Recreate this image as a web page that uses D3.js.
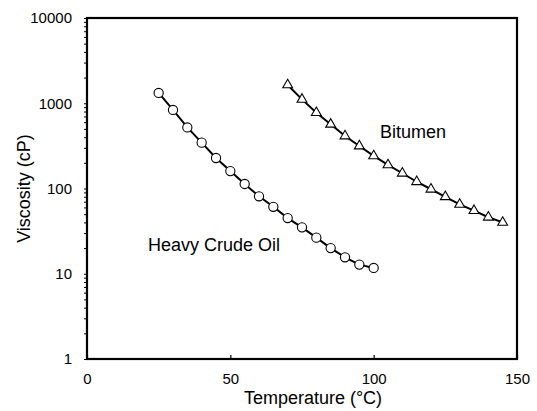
<!DOCTYPE html>
<html>
<head>
<meta charset="utf-8">
<script src="https://cdnjs.cloudflare.com/ajax/libs/d3/7.8.5/d3.min.js"></script>
<style>
  body { margin: 0; background: #fff; }
  svg { display: block; font-family: "Liberation Sans", Arial, sans-serif; }
</style>
</head>
<body>
<div class="chart"></div>
<script>
// temperatures in °C, viscosities in cP
var oilTemps = [25, 30, 35, 40, 45, 50, 55, 60, 65, 70, 75, 80, 85, 90, 95, 100];
var oilVisc = [1320, 835, 520, 345, 228, 160, 113, 81, 61, 45, 35, 26.5, 20, 15.6, 12.8, 11.7];
var bitTemps = [70, 75, 80, 85, 90, 95, 100, 105, 110, 115, 120, 125, 130, 135, 140, 145];
var bitVisc = [1640, 1110, 775, 566, 413, 315, 241, 189, 151, 120, 98, 80, 65, 55, 46, 40];
var xTicks = [0, 50, 100, 150];
var yTicks = [1, 10, 100, 1000, 10000];

var width = 537, height = 411,
    margin = {top: 18, right: 20, bottom: 52, left: 87};

var svg = d3.select(".chart").append("svg")
  .attr("width", width)
  .attr("height", height);

var x = d3.scaleLinear().domain([0, 150]).range([margin.left, width - margin.right]);
var y = d3.scaleLog().domain([1, 10000]).range([height - margin.bottom, margin.top]);

// minor ticks on log axis (outward, left)
var minor = [];
yTicks.slice(0, -1).forEach(d => {
  for (let k = 1; k < 10; k++) minor.push(d * k);
});
minor.push(10000);

var yAxis = svg.append("g")
  .attr("transform", `translate(${margin.left},0)`)
  .call(d3.axisLeft(y).tickValues(minor).tickSize(3).tickPadding(12)
    .tickFormat(d => yTicks.indexOf(d) >= 0 ? d3.format("d")(d) : ""));
yAxis.select(".domain").remove();
yAxis.selectAll("line").attr("stroke", "#000").attr("stroke-width", 1);
yAxis.selectAll("text").attr("font-size", 15).attr("fill", "#000")
  .attr("font-family", "Liberation Sans, Arial, sans-serif");

// x axis: inward ticks
var xAxis = svg.append("g")
  .attr("transform", `translate(0,${height - margin.bottom})`)
  .call(d3.axisBottom(x).tickValues(xTicks).tickSize(-4).tickPadding(14));
xAxis.select(".domain").remove();
xAxis.selectAll("line").attr("stroke", "#000").attr("stroke-width", 1.2);
xAxis.selectAll("text").attr("font-size", 15).attr("fill", "#000")
  .attr("font-family", "Liberation Sans, Arial, sans-serif");

// frame
svg.append("rect")
  .attr("x", x(0)).attr("y", y(10000))
  .attr("width", x(150) - x(0)).attr("height", y(1) - y(10000))
  .attr("fill", "none").attr("stroke", "#000").attr("stroke-width", 2.2);

var line = d3.line().x(d => x(d[0])).y(d => y(d[1]));
var oil = oilTemps.map((t, i) => [t, oilVisc[i]]);
var bit = bitTemps.map((t, i) => [t, bitVisc[i]]);

[oil, bit].forEach(s => {
  svg.append("path").datum(s)
    .attr("d", line)
    .attr("fill", "none").attr("stroke", "#000").attr("stroke-width", 2);
});

svg.append("g").selectAll("circle")
  .data(oil)
  .enter().append("circle")
  .attr("cx", d => x(d[0]))
  .attr("cy", d => y(d[1]))
  .attr("r", 4.6)
  .attr("fill", "#fff").attr("stroke", "#000").attr("stroke-width", 1.1);

svg.append("g").selectAll("path")
  .data(bit)
  .enter().append("path")
  .attr("d", d3.symbol().type(d3.symbolTriangle).size(42))
  .attr("transform", d => `translate(${x(d[0])},${y(d[1])})`)
  .attr("fill", "#fff").attr("stroke", "#000").attr("stroke-width", 1.1);

// labels
svg.append("text").attr("x", 148).attr("y", 251)
  .attr("font-size", 18).text("Heavy Crude Oil");
svg.append("text").attr("x", 380).attr("y", 138)
  .attr("font-size", 18).text("Bitumen");

svg.append("text")
  .attr("x", 313).attr("y", 404)
  .attr("text-anchor", "middle").attr("font-size", 18)
  .text("Temperature (°C)");

svg.append("text")
  .attr("transform", `translate(30,${(y(1) + y(10000)) / 2}) rotate(-90)`)
  .attr("text-anchor", "middle").attr("font-size", 18)
  .text("Viscosity (cP)");
</script>
</body>
</html>
